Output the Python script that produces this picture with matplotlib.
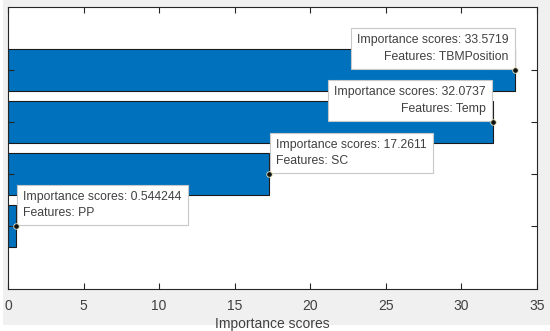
import numpy as np
import matplotlib.pyplot as plt
from matplotlib.patches import Rectangle

plt.rcParams['font.family'] = ['Liberation Sans', 'DejaVu Sans']

features = ['PP', 'SC', 'Temp', 'TBMPosition']
scores = [0.544244, 17.2611, 32.0737, 33.5719]
score_text = ['0.544244', '17.2611', '32.0737', '33.5719']
xticks = [0, 5, 10, 15, 20, 25, 30, 35]

fig = plt.figure(figsize=(5.5, 3.31), dpi=100, facecolor='white')
fig.patches.append(Rectangle((0.005, 0.018), 0.995, 0.982, transform=fig.transFigure,
                             facecolor='#f0f0f0', edgecolor='none', zorder=-10))
ax = fig.add_axes([8 / 550, 1 - 289 / 331, 529 / 550, 282 / 331])

pos = np.arange(len(features))
ax.barh(pos, scores, height=0.8, color='#0072BD', edgecolor='#1a1a1a', linewidth=0.8)

ax.set_xlim(0, 35)
ax.set_ylim(-1.2, 4.2)
ax.set_xticks(xticks)
ax.set_xticklabels([str(t) for t in xticks])
ax.set_yticks(pos)
ax.set_yticklabels([])
ax.tick_params(direction='in', top=True, right=True, length=4, width=0.8,
               colors='#262626', labelsize=10, labelcolor='#404040', pad=7)
for s in ax.spines.values():
    s.set_color('#262626')
    s.set_linewidth(0.8)
ax.set_xlabel('Importance scores', fontsize=10, color='#404040', labelpad=3)

# data tips
for i, (f, v, t) in enumerate(zip(features, scores, score_text)):
    txt = 'Importance scores: ' + t + '\nFeatures: ' + f
    if v > 25:
        ha, off = 'right', (-5, 5)
    else:
        ha, off = 'left', (5, 5)
    ax.annotate(txt, xy=(v, pos[i]), xytext=off, textcoords='offset points',
                ha=ha, va='bottom', multialignment=ha, fontsize=8.8, color='#404040',
                linespacing=1.5,
                bbox=dict(boxstyle='square,pad=0.5', facecolor='white',
                          edgecolor='#c8c8c8', linewidth=0.8), zorder=5)
    ax.plot(v, pos[i], 'o', markersize=4, markerfacecolor='#111111',
            markeredgecolor='#e8e8c0', markeredgewidth=0.6, zorder=6)

fig.savefig('out.png', dpi=100, facecolor=fig.get_facecolor())
